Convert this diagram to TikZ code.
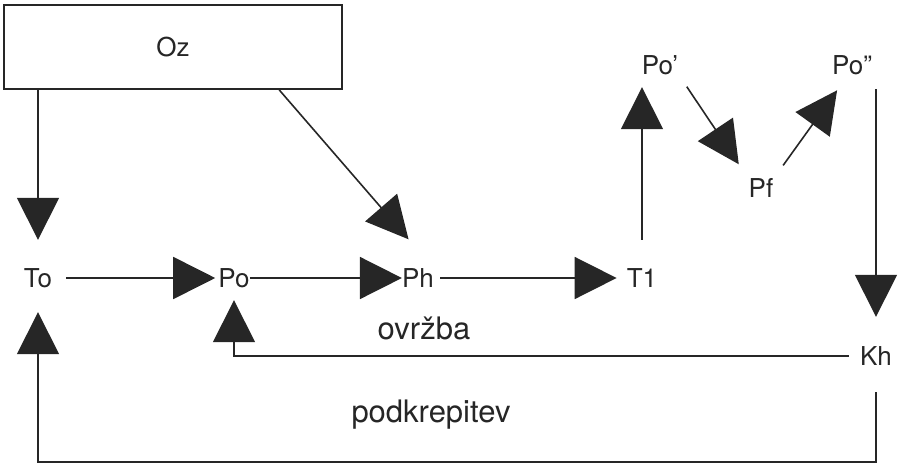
\documentclass[tikz,border=0pt]{standalone}
\usepackage{fontspec}
\setmainfont{TeX Gyre Heros}
\usetikzlibrary{arrows.meta}

\begin{document}
\begin{tikzpicture}[x=1pt, y=-1pt,
    lbl/.style={inner sep=0pt, text height=18pt, text depth=0pt, text=black!85,
        font=\fontsize{26}{30}\selectfont},
    box/.style={lbl, draw=black!85, line width=1.8pt, minimum width=338pt, minimum height=84pt},
    looplbl/.style={anchor=base, inner sep=0pt, text=black!85, font=\fontsize{31}{36}\selectfont},
    arr/.style={draw=black!85, line width=1.6pt, -{Triangle[length=42pt,width=42pt]}}]

\useasboundingbox (0,0) rectangle (899,466);

% Nodes
\node[box] (Oz) at (173,47) {Oz};
\node[lbl] (To) at (38,278) {To};
\node[lbl] (Po) at (234,278) {Po};
\node[lbl] (Ph) at (418,278) {Ph};
\node[lbl] (T1) at (642,278) {T1};
\node[lbl] (PoA) at (660,65) {Po’};
\node[lbl] (Pf) at (761,188) {Pf};
\node[lbl] (PoB) at (852,65) {Po”};
\node[lbl] (Kh) at (876,356) {Kh};

% Loop labels
\node[looplbl] (ovr) at (424,339) {ovržba};
\node[looplbl] (pod) at (431,422) {podkrepitev};

% Main chain
\draw[arr, shorten >=29pt] (Oz.south -| To.north) -- (To.north);
\draw[arr, shorten >=39pt] (Oz.338) -- (Ph.north east);
\draw[arr, shorten <=14pt, shorten >=3pt] (To.east) -- (Po.west);
\draw[arr] (Po.east) -- (Ph.west);
\draw[arr, shorten <=6pt, shorten >=10pt] (Ph.east) -- (T1.west);

% Branch over Po', Pf and Po''
\draw[arr, shorten <=29pt, shorten >=13pt] (T1.north) -- (T1.north |- PoA.south);
\draw[arr, shorten <=15pt, shorten >=17.5pt] (PoA.south east) -- (Pf.north west);
\draw[arr, shorten <=16.5pt, shorten >=19.8pt] (Pf.north east) -- (PoB.250);
\draw[arr, shorten <=15pt, shorten >=30pt] (Kh.north |- PoB.south) -- (Kh.north);

% Feedback loops
\draw[arr, shorten <=11.4pt, shorten >=13pt] (Kh.west) -| (Po.south);
\coordinate (base) at (0,462);
\draw[arr, shorten <=27pt, shorten >=25pt] (Kh.south) -- (Kh.south |- base) -| (To.south);

\end{tikzpicture}
\end{document}
